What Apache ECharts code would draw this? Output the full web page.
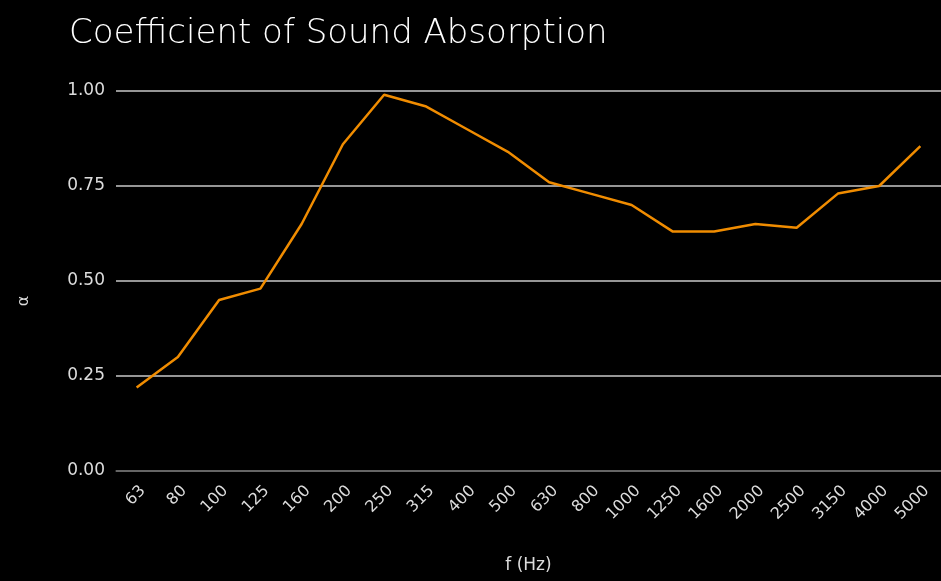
<!DOCTYPE html>
<html>
<head>
<meta charset="utf-8">
<script src="https://cdn.jsdelivr.net/npm/echarts@6/dist/echarts.min.js"></script>
<style>
html,body{margin:0;padding:0;background:#000;}
#c{width:941px;height:581px;}
</style>
</head>
<body>
<div id="c"></div>
<script>
const categories = ['63','80','100','125','160','200','250','315','400','500','630','800','1000','1250','1600','2000','2500','3150','4000','5000'];
const alphaValues = [0.22,0.30,0.45,0.48,0.65,0.86,0.99,0.96,0.90,0.84,0.76,0.73,0.70,0.63,0.63,0.65,0.64,0.73,0.75,0.855];
const yTicks = [0, 0.25, 0.5, 0.75, 1.0];

const chart = echarts.init(document.getElementById('c'));
chart.setOption({
  backgroundColor: '#000',
  animation: false,
  title: {
    text: 'Coefficient of Sound Absorption',
    left: 64, top: 12,
    textStyle: {color: '#fff', fontFamily: 'DejaVu Sans', fontWeight: 200, fontSize: 34}
  },
  grid: {left: 116, right: -8, top: 91, bottom: 110, containLabel: false},
  xAxis: {
    type: 'category',
    data: categories,
    boundaryGap: true,
    name: 'f (Hz)',
    nameLocation: 'middle',
    nameGap: 86,
    nameTextStyle: {color: '#dcdcdc', fontFamily: 'DejaVu Sans', fontSize: 17},
    axisLine: {lineStyle: {color: '#555', width: 1.5}},
    axisTick: {show: false},
    axisLabel: {rotate: 45, color: '#dcdcdc', fontFamily: 'DejaVu Sans', fontSize: 16, margin: 11,
      verticalAlign: 'top', lineHeight: 18, interval: 0}
  },
  yAxis: {
    type: 'value',
    min: yTicks[0], max: yTicks[yTicks.length-1], interval: 0.25,
    name: 'α',
    nameLocation: 'middle',
    nameGap: 84,
    nameTextStyle: {color: '#dcdcdc', fontFamily: 'DejaVu Sans', fontSize: 16, padding: [0, 40, 0, 0]},
    axisLine: {show: false},
    axisTick: {show: false},
    axisLabel: {color: '#dcdcdc', fontFamily: 'DejaVu Sans', fontSize: 17, margin: 11,
      formatter: v => v.toFixed(2)},
    splitLine: {lineStyle: {color: '#c8c8c8', width: 1.5}}
  },
  series: [{
    type: 'line',
    data: alphaValues,
    symbol: 'none',
    lineStyle: {color: '#f08c00', width: 2.5},
    itemStyle: {color: '#f08c00'}
  }]
});
</script>
</body>
</html>
